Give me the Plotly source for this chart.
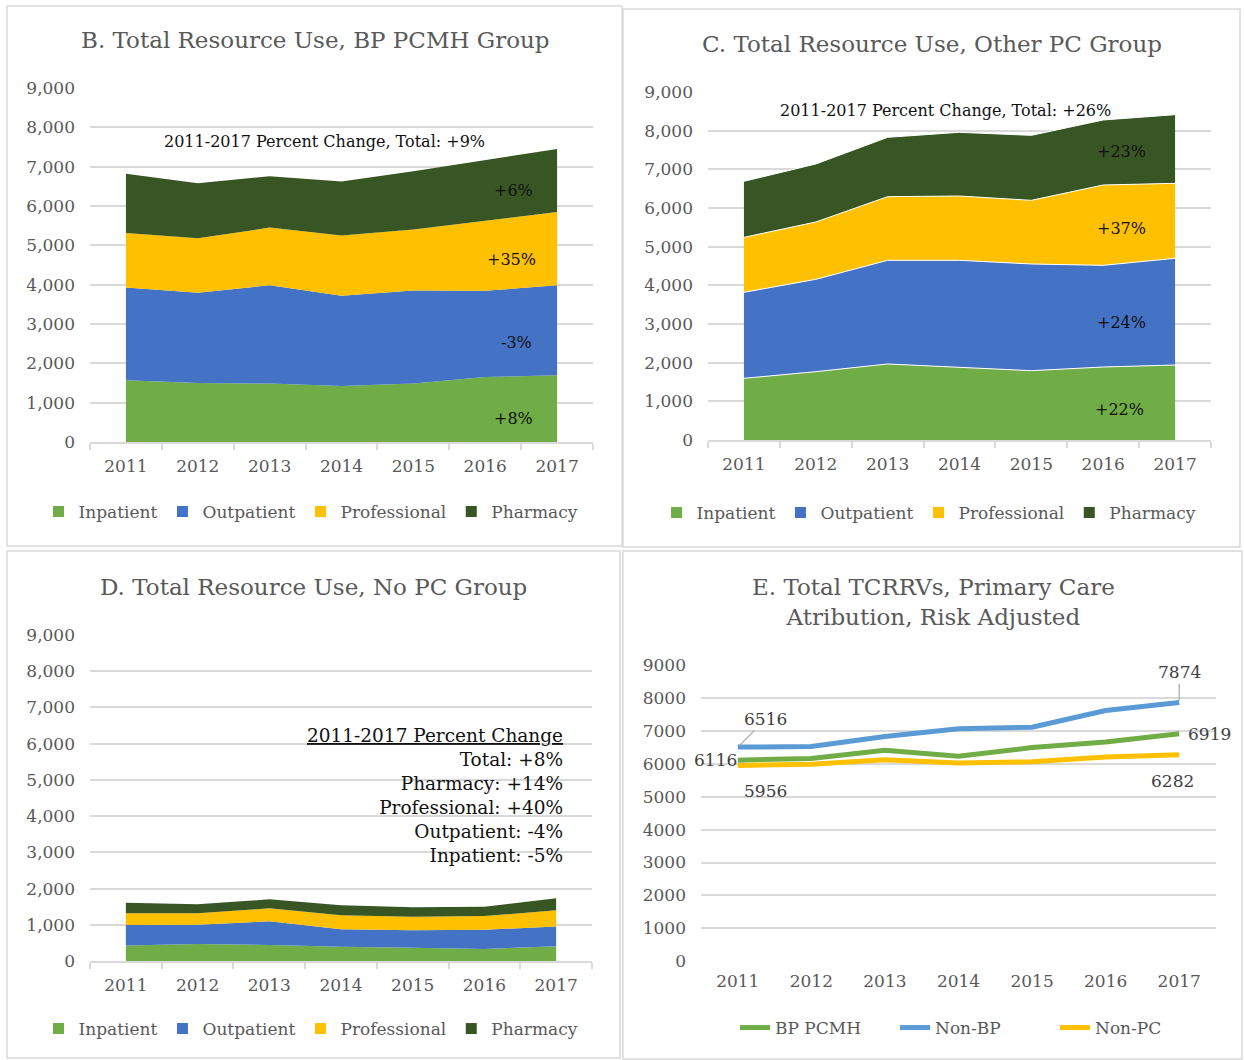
import plotly.graph_objects as go

W, H = 1244, 1060
FONT = "DejaVu Serif"
GRAY = "#595959"
GRID = "#d9d9d9"

years = ["2011", "2012", "2013", "2014", "2015", "2016", "2017"]
categories = ["Inpatient", "Outpatient", "Professional", "Pharmacy"]
area_colors = ["#70ad47", "#4472c4", "#ffc000", "#375623"]

# Panel B: BP PCMH group
b_inpatient = [1570, 1500, 1485, 1425, 1485, 1650, 1695]
b_outpatient = [2360, 2297, 2500, 2296, 2364, 2194, 2288]
b_professional = [1382, 1381, 1466, 1526, 1551, 1783, 1864]
b_pharmacy = [1508, 1398, 1305, 1373, 1482, 1530, 1602]

# Panel C: Other PC group
c_inpatient = [1595, 1767, 1966, 1879, 1793, 1888, 1940]
c_outpatient = [2224, 2388, 2681, 2768, 2759, 2629, 2758]
c_professional = [1422, 1483, 1646, 1663, 1646, 2078, 1940]
c_pharmacy = [1449, 1500, 1535, 1647, 1681, 1681, 1776]

# Panel D: No PC group
d_inpatient = [430, 470, 445, 390, 365, 330, 410]
d_outpatient = [565, 533, 650, 484, 481, 535, 542]
d_professional = [322, 313, 359, 386, 378, 377, 448]
d_pharmacy = [288, 248, 248, 276, 257, 258, 330]

# Panel E: Total TCRRVs
e_series = ["BP PCMH", "Non-BP", "Non-PC"]
e_colors = ["#70ad47", "#5b9bd5", "#ffc000"]
e_bp = [6116, 6170, 6420, 6240, 6500, 6670, 6919]
e_nonbp = [6516, 6530, 6840, 7070, 7120, 7630, 7874]
e_nonpc = [5956, 5990, 6130, 6030, 6070, 6210, 6282]

y_ticks = [0, 1000, 2000, 3000, 4000, 5000, 6000, 7000, 8000, 9000]

idx = list(range(len(years)))


def px_x(p):
    return p / W


def px_y(p):
    return 1 - p / H


fig = go.Figure()

panels = [
    ("x", "y", "legend", "B", [b_inpatient, b_outpatient, b_professional, b_pharmacy], 0),
    ("x2", "y2", "legend2", "C", [c_inpatient, c_outpatient, c_professional, c_pharmacy], 1),
    ("x3", "y3", "legend3", "D", [d_inpatient, d_outpatient, d_professional, d_pharmacy], 0),
]

for xa, ya, lg, grp, series, sep in panels:
    for name, col, vals in zip(categories, area_colors, series):
        fig.add_trace(go.Scatter(
            x=idx, y=vals, name=name, stackgroup=grp, mode="lines",
            line=dict(width=sep, color="white" if sep else col), fillcolor=col,
            xaxis=xa, yaxis=ya, showlegend=False, hoverinfo="skip"))
    for name, col in zip(categories, area_colors):
        fig.add_trace(go.Scatter(
            x=[None], y=[None], name=name, mode="markers",
            marker=dict(symbol="square", size=11, color=col),
            xaxis=xa, yaxis=ya, legend=lg, showlegend=True))

for name, col, vals in zip(e_series, e_colors, [e_bp, e_nonbp, e_nonpc]):
    fig.add_trace(go.Scatter(
        x=idx, y=vals, name=name, mode="lines",
        line=dict(width=5, color=col),
        xaxis="x4", yaxis="y4", legend="legend4"))

domains = {
    "": ([90, 593], [442, 88]),
    "2": ([708, 1211], [440, 92]),
    "3": ([90, 592], [961, 635]),
    "4": ([701, 1216], [961, 665.5]),
}

layout = dict(
    width=W, height=H, margin=dict(l=0, r=0, t=0, b=0),
    paper_bgcolor="white", plot_bgcolor="white",
    font=dict(family=FONT, color=GRAY, size=17),
    showlegend=True,
)

for key, (xd, yd) in domains.items():
    is_e = key == "4"
    layout["xaxis" + key] = dict(
        domain=[px_x(xd[0]), px_x(xd[1])],
        anchor="y" + key,
        range=[-0.5, 6.5],
        tickmode="array", tickvals=idx, ticktext=years,
        ticks="", showgrid=False, zeroline=False,
        showline=not is_e, linecolor=GRID, linewidth=1.5,
        tickfont=dict(size=17, color=GRAY, family=FONT),
        ticklabelstandoff=8,
        minor=dict(tickvals=[i - 0.5 for i in range(8)], ticks="outside" if not is_e else "",
                   ticklen=6, tickcolor=GRID, tickwidth=1.5, showgrid=False),
        fixedrange=True, automargin=False,
    )
    layout["yaxis" + key] = dict(
        domain=[px_y(yd[0]), px_y(yd[1])],
        anchor="x" + key,
        range=[0, 9000],
        tickmode="array", tickvals=y_ticks,
        tickformat="d" if is_e else ",",
        showgrid=True, gridcolor=GRID, gridwidth=1.5,
        zeroline=False, showline=False, ticks="",
        tickfont=dict(size=17, color=GRAY, family=FONT),
        ticklabelstandoff=14,
        fixedrange=True, automargin=False,
    )

legend_pos = {
    "legend": (311, 512, "center"),
    "legend2": (929, 513, "center"),
    "legend3": (311, 1029, "center"),
    "legend4": (735, 1028, "left"),
}
for lg, (cx, cy, anchor) in legend_pos.items():
    extra = {}
    if lg == "legend4":
        extra = dict(entrywidth=115, entrywidthmode="pixels")
    layout[lg] = dict(
        orientation="h", x=px_x(cx), y=px_y(cy), xanchor=anchor, yanchor="middle",
        font=dict(size=17, color=GRAY, family=FONT), bgcolor="rgba(0,0,0,0)",
        itemclick=False, itemdoubleclick=False, traceorder="normal", **extra,
    )

fig.update_layout(**layout)

# Panel borders
for x0, y0, x1, y1 in [(7, 6, 622, 546), (623, 9, 1240, 547), (7, 551, 620, 1058), (623, 551, 1242, 1059)]:
    fig.add_shape(type="rect", xref="paper", yref="paper",
                  x0=px_x(x0), x1=px_x(x1), y0=px_y(y1), y1=px_y(y0),
                  line=dict(color=GRID, width=1.5), fillcolor="rgba(0,0,0,0)", layer="below")

# Titles
titles = [
    ("B. Total Resource Use, BP PCMH Group", 315, 40),
    ("C. Total Resource Use, Other PC Group", 932, 44),
    ("D. Total Resource Use, No PC Group", 313, 587),
    ("E. Total TCRRVs, Primary Care<br>Atribution, Risk Adjusted", 933, 602),
]
for txt, cx, cy in titles:
    fig.add_annotation(text=txt, xref="paper", yref="paper", x=px_x(cx), y=px_y(cy),
                       xanchor="center", yanchor="middle", showarrow=False,
                       font=dict(size=23, color=GRAY, family=FONT))

BLACK = "#111111"
# Panel B annotations
b_notes = [
    ("2011-2017 Percent Change, Total: +9%", 2.76, 7650),
    ("+6%", 5.4, 6400), ("+35%", 5.36, 4630), ("-3%", 5.43, 2520), ("+8%", 5.39, 610),
]
for txt, x, y in b_notes:
    fig.add_annotation(text=txt, x=x, y=y, xref="x", yref="y", showarrow=False,
                       font=dict(size=16, color=BLACK, family=FONT))

c_notes = [
    ("2011-2017 Percent Change, Total: +26%", 2.81, 8510),
    ("+23%", 5.26, 7450), ("+37%", 5.26, 5460), ("+24%", 5.26, 3050), ("+22%", 5.23, 800),
]
for txt, x, y in c_notes:
    fig.add_annotation(text=txt, x=x, y=y, xref="x2", yref="y2", showarrow=False,
                       font=dict(size=16, color=BLACK, family=FONT))

d_text = ("<u>2011-2017 Percent Change</u><br>Total: +8%<br>Pharmacy: +14%<br>"
          "Professional: +40%<br>Outpatient: -4%<br>Inpatient: -5%")
fig.add_annotation(text=d_text, x=6.12, y=4570, xref="x3", yref="y3", showarrow=False,
                   xanchor="right", yanchor="middle", align="right",
                   font=dict(size=18.5, color=BLACK, family=FONT))

# Panel E data labels
LBL = "#404040"
e_labels = [
    (0, e_nonbp[0], 28, -28, True),
    (0, e_bp[0], -22, 0, False),
    (0, e_nonpc[0], 28, 26, False),
    (6, e_nonbp[6], 0, -30, True),
    (6, e_bp[6], 30, 0, False),
    (6, e_nonpc[6], -7, 26, False),
]
for x, y, ax, ay, arrow in e_labels:
    fig.add_annotation(text=str(y), x=x, y=y, xref="x4", yref="y4",
                       showarrow=arrow, arrowhead=0, arrowcolor="#a6a6a6", arrowwidth=1.2,
                       ax=ax, ay=ay, standoff=2,
                       xshift=0 if arrow else ax, yshift=0 if arrow else -ay,
                       font=dict(size=17, color=LBL, family=FONT))

fig.write_html(
    "out.html",
    config={"displayModeBar": False},
    post_script="document.body.style.margin='0';document.body.style.overflow='hidden';",
)
